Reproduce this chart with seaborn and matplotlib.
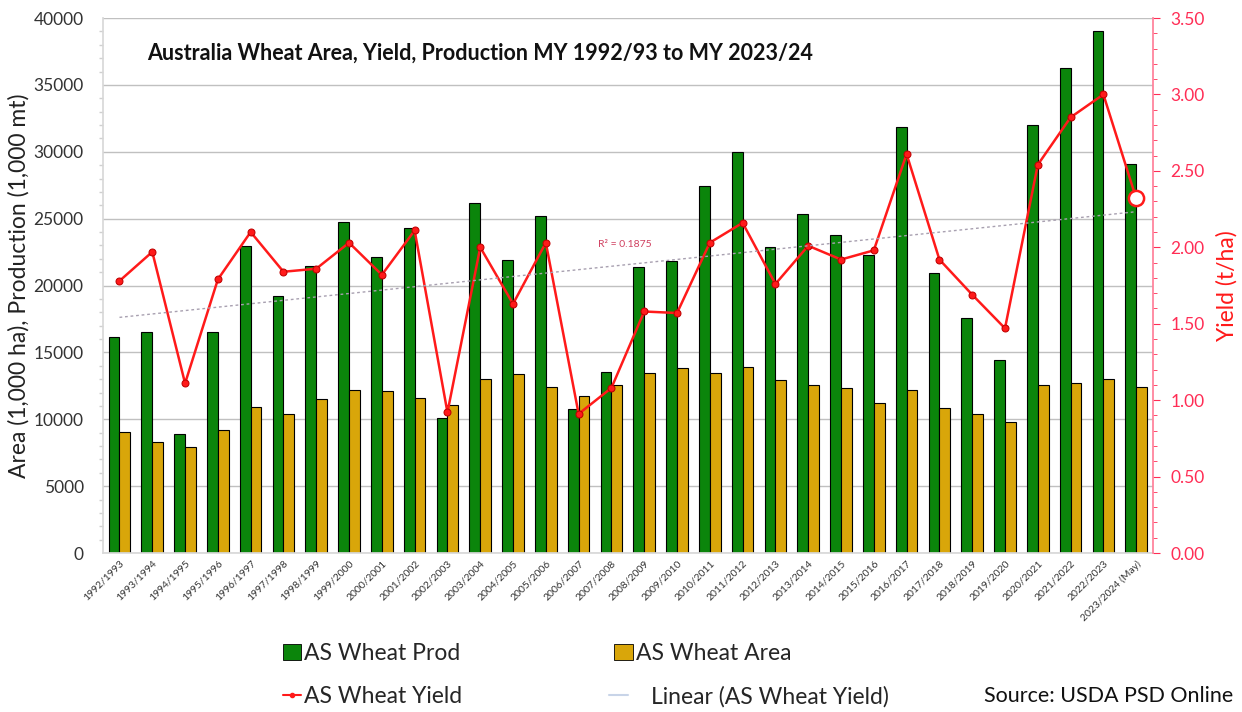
import numpy as np
import pandas as pd
import matplotlib
matplotlib.use("Agg")
import matplotlib.pyplot as plt
from matplotlib.lines import Line2D
from matplotlib.patches import Patch
from matplotlib.ticker import MultipleLocator
import seaborn as sns

years = ["1992/1993", "1993/1994", "1994/1995", "1995/1996", "1996/1997", "1997/1998",
         "1998/1999", "1999/2000", "2000/2001", "2001/2002", "2002/2003", "2003/2004",
         "2004/2005", "2005/2006", "2006/2007", "2007/2008", "2008/2009", "2009/2010",
         "2010/2011", "2011/2012", "2012/2013", "2013/2014", "2014/2015", "2015/2016",
         "2016/2017", "2017/2018", "2018/2019", "2019/2020", "2020/2021", "2021/2022",
         "2022/2023", "2023/2024 (May)"]
production = [16180, 16500, 8870, 16500, 22950, 19240, 21480, 24770, 22150, 24280,
              10120, 26190, 21900, 25200, 10770, 13560, 21400, 21860, 27440, 29960,
              22850, 25350, 23780, 22280, 31870, 20960, 17550, 14430, 31980, 36260,
              39050, 29060]
area = [9070, 8320, 7950, 9200, 10920, 10390, 11510, 12190, 12110, 11560,
        11070, 13030, 13360, 12430, 11760, 12540, 13480, 13810, 13430, 13880,
        12930, 12580, 12340, 11240, 12160, 10870, 10390, 9790, 12580, 12690,
        12990, 12430]
yield_t = [1.78, 1.97, 1.11, 1.79, 2.10, 1.84, 1.86, 2.03, 1.82, 2.11,
           0.92, 2.00, 1.63, 2.03, 0.91, 1.08, 1.58, 1.57, 2.03, 2.16,
           1.76, 2.01, 1.92, 1.98, 2.61, 1.92, 1.69, 1.47, 2.54, 2.85,
           3.00, 2.32]

GREEN = "#0b850b"
GOLD = "#d9a60a"
RED = "#ff1a1a"
PINK = "#ff2d55"

sns.set_theme(style="white")
plt.rcParams['font.family'] = ['Lato', 'DejaVu Sans']

df = pd.DataFrame({
    "Year": years * 2,
    "Value": production + area,
    "Series": ["AS Wheat Prod"] * len(years) + ["AS Wheat Area"] * len(years),
})

fig = plt.figure(figsize=(12.42, 7.12), dpi=100)
ax = fig.add_axes([0.083, 0.2233, 0.845, 0.7514])

sns.barplot(data=df, x="Year", y="Value", hue="Series", order=years,
            palette={"AS Wheat Prod": GREEN, "AS Wheat Area": GOLD}, saturation=1,
            width=0.66, gap=0.0, edgecolor="black", linewidth=0.8, ax=ax, legend=False)

ax.set_xlim(-0.5, len(years) - 0.5)
ax.set_ylim(0, 40000)
ax.yaxis.set_major_locator(MultipleLocator(5000))
ax.yaxis.set_minor_locator(MultipleLocator(1000))
ax.grid(axis="y", color="#c0c0c0", linewidth=1.0)
ax.set_axisbelow(True)
ax.set_xlabel("")
ax.set_ylabel("Area (1,000 ha), Production (1,000 mt)", fontsize=16.5, color="#222222", labelpad=3)
ax.tick_params(axis="y", which="major", labelsize=12.5, length=0, colors="#333333", pad=14)
ax.tick_params(axis="y", which="minor", length=3, color="#d0d0d0", left=True)
ax.set_xticks(range(len(years)))
ax.set_xticklabels(years, rotation=45, ha="right", rotation_mode="anchor", fontsize=7.5, color="#333333")
ax.tick_params(axis="x", length=0, pad=4)
for s in ["top", "right"]:
    ax.spines[s].set_visible(False)
ax.spines["left"].set_color("#d8d8d8")
ax.spines["bottom"].set_color("#d8d8d8")

ax2 = ax.twinx()
xi = np.arange(len(years))
sns.lineplot(x=xi, y=yield_t, ax=ax2, color=RED, linewidth=1.8, marker="o",
             markersize=5, markeredgecolor="#c00000", markevery=list(range(len(years) - 1)),
             legend=False)
ax2.scatter([xi[-1]], [yield_t[-1]], s=120, facecolors="white", edgecolors=RED, linewidths=1.8, zorder=5)
coef = np.polyfit(xi, yield_t, 1)
ax2.plot(xi, np.polyval(coef, xi), linestyle=(0, (2, 2)), color="#a8a0b0", linewidth=1.0)
ax2.text(15.4, 2.02, "R² = 0.1875", color="#d04060", fontsize=7.5, ha="center", va="center")
ax2.set_ylim(0, 3.5)
ax2.set_xlim(-0.5, len(years) - 0.5)
ax2.yaxis.set_major_locator(MultipleLocator(0.5))
ax2.yaxis.set_minor_locator(MultipleLocator(0.1))
ax2.yaxis.set_major_formatter(matplotlib.ticker.FormatStrFormatter("%.2f"))
ax2.tick_params(axis="y", which="major", labelsize=12.5, colors=PINK, length=5, width=0.8, pad=8)
ax2.tick_params(axis="y", which="minor", length=3, color=PINK, width=0.6, right=True)
ax2.set_ylabel("Yield (t/ha)", fontsize=16.5, color=RED, labelpad=8)
for s in ["top", "left", "bottom"]:
    ax2.spines[s].set_visible(False)
ax2.spines["right"].set_color("#ff8099")
ax2.grid(False)

ax.text(0.042, 0.935, "Australia Wheat Area, Yield, Production MY 1992/93 to MY 2023/24",
        transform=ax.transAxes, fontsize=15.5, fontweight="bold", color="#111111", va="center")

h1 = [Patch(facecolor=GREEN, edgecolor="black", linewidth=0.6),
      Patch(facecolor=GOLD, edgecolor="black", linewidth=0.6)]
fig.legend(h1, ["AS Wheat Prod", "AS Wheat Area"], loc="center left",
           bbox_to_anchor=(0.211, 0.082), ncol=2, frameon=False, fontsize=16.5,
           handlelength=0.8, handleheight=0.7, handletextpad=0.15, columnspacing=6.7)
fig.legend([Line2D([0], [0], color=RED, marker="o", markersize=3, linewidth=1.5)],
           ["AS Wheat Yield"], loc="center left",
           bbox_to_anchor=(0.211, 0.022), frameon=False, fontsize=16.5,
           handlelength=0.8, handletextpad=0.15)
fig.legend([Line2D([0], [0], color="#c8d4e8", linewidth=1.5)],
           ["Linear (AS Wheat Yield)"], loc="center left",
           bbox_to_anchor=(0.474, 0.022), frameon=False, fontsize=16.5,
           handlelength=0.8, handletextpad=1.0)
fig.text(0.993, 0.022, "Source: USDA PSD Online", ha="right", va="center", fontsize=15.5, color="#111111")

fig.savefig("out.png", dpi=100)
